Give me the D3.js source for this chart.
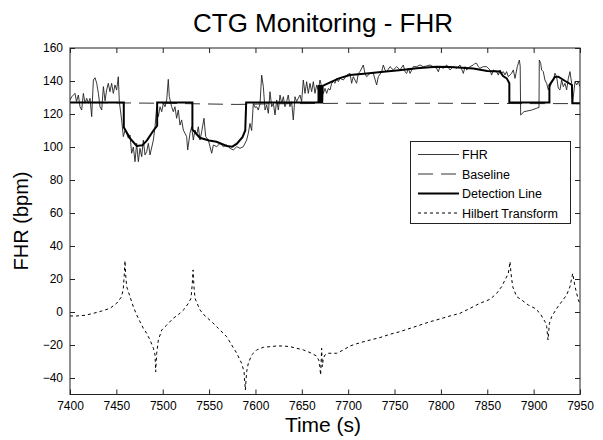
<!DOCTYPE html>
<html><head><meta charset="utf-8">
<script src="https://cdn.jsdelivr.net/npm/d3@7"></script>
<style>
html,body{margin:0;padding:0;background:#fff;}
svg{display:block;font-family:Arial,"Liberation Sans",sans-serif;}
</style></head>
<body><svg id="c" width="603" height="440"></svg>
<script>
// ---- DATA ----
const title = "CTG Monitoring - FHR";
const xLabel = "Time (s)";
const yLabel = "FHR (bpm)";
const xTicks = [7400,7450,7500,7550,7600,7650,7700,7750,7800,7850,7900,7950];
const yTicks = [-40,-20,0,20,40,60,80,100,120,140,160];
const legendNames = ["FHR","Baseline","Detection Line","Hilbert Transform"];

const fhrT = [7400,7402,7405.4,7407,7409,7410.8,7412.6,7414.4,7416.2,7418,7419.8,7421.6,7423.4,7425.2,7427,7428.8,7430.6,7432.4,7434.2,7436,7437.8,7439.5,7441.3,7443.1,7444.9,7446.7,7448.5,7450.3,7452.1,7453.2,7455.7,7457.5,7459.3,7461.1,7462.9,7464.7,7466.5,7468.3,7470.1,7471.9,7473.7,7475.5,7477.3,7479.1,7480.9,7482.7,7484.5,7486.3,7489.9,7491.7,7493.5,7495.3,7497.1,7498.9,7500.7,7502.5,7504.3,7506,7507.1,7509.6,7511.4,7513.2,7515,7516.8,7518.6,7520.4,7522.2,7525.8,7526.9,7529.4,7531.2,7533,7534.8,7536.6,7538.4,7540.2,7542,7544.5,7546.3,7549.2,7551,7552.8,7554.6,7558.2,7561.8,7565.4,7569,7572.6,7576.2,7579.8,7583.3,7586.9,7590.5,7592.3,7594.1,7595.9,7597.7,7599.5,7601.3,7603,7604.9,7606.7,7608.5,7610.3,7612.1,7613.9,7615.7,7617.5,7619.3,7621.1,7622.9,7624.7,7626.5,7628.3,7630.1,7631.8,7633.6,7635.4,7637.2,7639,7640.8,7642.6,7644.4,7646.2,7648,7649.8,7651.6,7653.4,7655.2,7657,7658.8,7660.6,7662.4,7664.2,7666,7667.8,7669.6,7671.4,7673.2,7675,7676.8,7678.6,7680.4,7682.2,7684,7685.8,7687.6,7689.4,7691.2,7694.8,7698.4,7702,7703.7,7705.5,7709.1,7710.9,7712.7,7716.3,7718.1,7719.9,7723.5,7727.1,7730.7,7732.5,7736.1,7737.9,7739.7,7741.5,7745.1,7748.7,7752.3,7755.9,7759.5,7761.3,7763.1,7764.9,7766.7,7770.3,7773.9,7777.4,7781,7784.6,7788.2,7791.8,7795.4,7797.2,7799,7802.6,7806.2,7809.8,7813.4,7817,7820.6,7824.2,7826,7827.8,7831.4,7835,7836.7,7838.5,7840.3,7842.1,7845.7,7849.3,7852.9,7854.7,7856.5,7860.1,7861.9,7863.7,7865.5,7867.3,7869.1,7870.9,7872.7,7874.5,7876.3,7878.1,7879.9,7881,7882.4,7884.6,7885.5,7886,7889.6,7897.9,7903.3,7905.8,7906.1,7907.6,7908.6,7910.4,7912.2,7914,7915.8,7917.6,7919.4,7921.2,7923,7924.8,7926.6,7928.4,7930.2,7932,7933.8,7935.6,7937.4,7939.2,7941,7942.1,7944.6,7946.4,7948.2,7950];
const fhrV = [128.5,130.5,132.5,127.5,131.5,124.4,122.4,132.5,126.5,129.5,126.5,129.5,118.4,140.6,142,138.6,132.5,124.4,122.4,136.6,128,134.5,138.6,133.5,138.6,132.5,137.6,134.5,142.6,127.5,116.4,106.3,110,108.3,105.3,107.3,96.2,100,91.1,102.2,91.1,99.2,94.1,104.2,95.2,97.2,102.2,95.2,104.2,112.3,124.4,118.4,124.4,121.4,126.5,124.4,128.5,141,130.5,124.4,121.4,124.4,117.4,122.4,113.3,116.4,110.3,106.3,98.2,108.3,112.3,104.2,110.3,107.3,112.3,104.2,109.3,117.4,106.3,104.2,100.2,96.2,101.2,100.2,102.2,100.2,101.2,99.2,98.2,100.2,99.2,100.2,104.2,108.3,114.3,110,126.5,124,124.4,122.4,126,143.6,136.6,122.4,125.4,120.4,133.5,124.4,126.5,119.4,128.5,122.4,131.5,126.5,130.5,124.4,127.5,131.5,124.4,127.5,116.4,130.5,127.5,129.5,131.5,127.5,140.6,132.5,139.6,132.5,138.6,133.5,139.6,132.5,137.6,134.5,140.6,136.6,132.5,135.5,132.5,135.5,134.5,138.6,139.6,138.6,141.6,139.6,141.6,140.6,143.6,144.6,138.6,142.6,138.6,144.6,145.6,149.7,144.6,142.6,144.6,144.6,137.6,142.6,145.6,149.7,146.7,145.6,148.7,146.7,148.7,146.7,149.7,145.6,144.6,147.7,144.6,148.7,148.7,149.7,148.7,149.1,149.7,148.7,147.7,145.6,148.7,147.7,149.7,146.7,148.7,147.7,149.7,144.6,148.7,146.7,148.7,149.7,150.7,150.7,148.7,147.7,148.7,148.7,146.7,143.6,146.7,145.6,143.6,146.7,144.7,145.7,143.7,145.7,142.6,143.7,144.7,146.7,141.6,144.7,148.7,152.7,149,119.4,121.4,122.4,123.5,124,152.7,150.7,146.7,145.7,140.6,138.6,134.6,136.6,138.6,140.6,144.7,142.6,135.6,134.6,140.6,136.6,138.6,134.6,141.6,145.7,138.6,127,139.6,137.6,139.6,136.6];

const baseT = [7400,7500,7580,7620,7700,7800,7900,7950];
const baseV = [127,126.5,125.8,126.2,126.5,126.5,126.3,126.3];

const detT = [7400,7458,7458,7465,7472,7478,7483,7490,7494,7494,7532,7532,7540,7550,7558,7569,7575,7580,7586,7589,7590,7668,7668,7669,7669,7670,7670,7671,7671,7672,7672.5,7680,7690,7702,7720,7738,7755,7774,7795,7810,7835,7850,7863.7,7867,7871,7873.8,7873.8,7917,7917,7923,7926.6,7934,7941.3,7941.7,7950];
const detV = [127,127,112,105,100.6,101,104,110,113,127,127,110.7,105.6,104,103.2,100.6,100.2,102,106,110,127,127,137,137,127,127,137,137,127,127,137,139,141.6,143.6,144.5,145.6,146.5,147.7,148.6,148.5,147.6,146,145.7,143,141.6,138.6,127,127,137.6,142.5,142.6,140,137.6,126.5,126.5];

const hilT = [7400,7407.2,7416.2,7425.2,7434.2,7443.1,7450.3,7455.7,7457.5,7458.6,7459.3,7460,7461.1,7464.7,7468.3,7471.9,7475.5,7479.1,7482.7,7486.3,7489.9,7491.7,7492.4,7493.5,7495.3,7498.9,7504.3,7511.4,7518.6,7524,7527.6,7530.5,7531.9,7532.7,7533.7,7534.8,7540.2,7545.6,7552.8,7560,7569,7574.4,7579.8,7585.1,7587.7,7589.1,7590.5,7592.3,7595.9,7601.3,7608.5,7615.7,7622.9,7630.1,7637.3,7644.5,7651.7,7658.8,7666,7668.9,7670.3,7671.4,7672.1,7673.2,7675,7678.6,7687.6,7694.8,7702,7712.8,7723.5,7734.3,7745.1,7755.9,7766.7,7777.5,7788.3,7799,7809.8,7820.6,7831.4,7842.2,7853,7860.2,7865.5,7869.1,7872.7,7874.5,7875.6,7877.4,7881.7,7887.1,7894.3,7901.5,7906.9,7912.3,7914.1,7915.5,7917,7919.5,7924.9,7930.3,7935.6,7939.2,7942.1,7944.6,7948.2,7950];
const hilV = [-2.4,-2.4,-2,-0.8,0.6,2.2,5.3,9.3,14.4,23,31.1,23,15.4,9.3,3.2,-1.8,-5.9,-9.9,-12.9,-17,-22,-26,-36.2,-25,-17,-10.9,-7.9,-3.8,-0.8,2.2,5.3,8.3,17.4,25.5,15.4,8.3,1.2,-2.4,-5.9,-9.9,-15,-20,-25,-31.1,-36.2,-47.3,-36.2,-31.1,-26,-23,-21.4,-21,-20.6,-20.6,-21,-22,-23,-24.6,-26.7,-30,-38.2,-22,-33.1,-28,-26,-25,-25,-23,-20.6,-18.6,-17,-15.5,-13.5,-11.9,-9.9,-7.9,-5.9,-4.2,-2.4,-0.8,2.2,5.3,7.7,11.3,15.4,19.4,23.4,30.5,23.4,15.4,9.3,7.3,4.2,2.2,-0.8,-5.9,-8.9,-17,-6.9,-2.8,2.2,6.3,10.3,15.4,23.4,15.4,7.3,5];

// ---- CHART ----
const svg = d3.select("#c");
const L = 70, R = 580, T = 48, B = 394.5;
const x = d3.scaleLinear().domain([7400,7950]).range([L,R]);
const y = d3.scaleLinear().domain([-50,160]).range([B,T]);

svg.append("defs").append("clipPath").attr("id","clip")
  .append("rect").attr("x",L).attr("y",T).attr("width",R-L).attr("height",B-T);

const zip = (ts,vs)=>ts.map((t,i)=>[t,vs[i]]);
const line = d3.line().x(d=>x(d[0])).y(d=>y(d[1]));
const g = svg.append("g").attr("clip-path","url(#clip)");

g.append("path").datum(zip(baseT,baseV)).attr("d",line)
  .attr("fill","none").attr("stroke","#333").attr("stroke-width",1).attr("stroke-dasharray","15,8");
g.append("path").datum(zip(fhrT,fhrV)).attr("d",line)
  .attr("fill","none").attr("stroke","#222").attr("stroke-width",0.9);
g.append("path").datum(zip(detT,detV)).attr("d",line)
  .attr("fill","none").attr("stroke","#000").attr("stroke-width",2);
g.append("path").datum(zip(hilT,hilV)).attr("d",line)
  .attr("fill","none").attr("stroke","#000").attr("stroke-width",1).attr("stroke-dasharray","3,3");

// axes
const axCol = "#222";
function style(sel){
  sel.select(".domain").remove();
  sel.selectAll(".tick line").attr("stroke",axCol);
  sel.selectAll(".tick text").attr("fill","#000").style("font-size","12px").style("font-family",'Arial,"Liberation Sans",sans-serif');
}
svg.append("g").attr("transform",`translate(0,${B})`)
  .call(d3.axisBottom(x).tickValues(xTicks).tickFormat(d3.format("d")).tickSizeInner(-5).tickSizeOuter(0).tickPadding(7)).call(style);
svg.append("g").attr("transform",`translate(${L},0)`)
  .call(d3.axisLeft(y).tickValues(yTicks).tickFormat(d3.format("d")).tickSizeInner(-5).tickSizeOuter(0).tickPadding(7)).call(style);
svg.append("g").attr("transform",`translate(0,${T})`)
  .call(d3.axisTop(x).tickValues(xTicks).tickFormat("").tickSizeInner(-5).tickSizeOuter(0)).call(style);
svg.append("g").attr("transform",`translate(${R},0)`)
  .call(d3.axisRight(y).tickValues(yTicks).tickFormat("").tickSizeInner(-5).tickSizeOuter(0)).call(style);
svg.append("rect").attr("x",L).attr("y",T).attr("width",R-L).attr("height",B-T)
  .attr("fill","none").attr("stroke",axCol).attr("stroke-width",1);

// titles
svg.append("text").attr("x",323).attr("y",32).attr("text-anchor","middle")
  .style("font-size","26px").attr("fill","#000").text(title);
svg.append("text").attr("x",323).attr("y",432).attr("text-anchor","middle")
  .style("font-size","21px").attr("fill","#000").text(xLabel);
svg.append("text").attr("transform","translate(28,221) rotate(-90)").attr("text-anchor","middle")
  .style("font-size","20px").attr("fill","#000").text(yLabel);

// legend
const lg = svg.append("g");
lg.append("rect").attr("x",410.5).attr("y",141.5).attr("width",160).attr("height",82)
  .attr("fill","#fff").attr("stroke",axCol).attr("stroke-width",1);
const styles = [
  {w:0.9,dash:null,c:"#222"},
  {w:1,dash:"15,8",c:"#333"},
  {w:2,dash:null,c:"#000"},
  {w:1,dash:"3,3",c:"#000"}
];
const rowY = [154.5,174,193.5,213];
legendNames.forEach((n,i)=>{
  lg.append("line").attr("x1",418).attr("x2",459).attr("y1",rowY[i]).attr("y2",rowY[i])
    .attr("stroke",styles[i].c).attr("stroke-width",styles[i].w)
    .attr("stroke-dasharray",styles[i].dash);
  lg.append("text").attr("x",462).attr("y",rowY[i]).attr("dy","0.36em")
    .style("font-size","12.5px").attr("fill","#000").text(n);
});
</script></body></html>
